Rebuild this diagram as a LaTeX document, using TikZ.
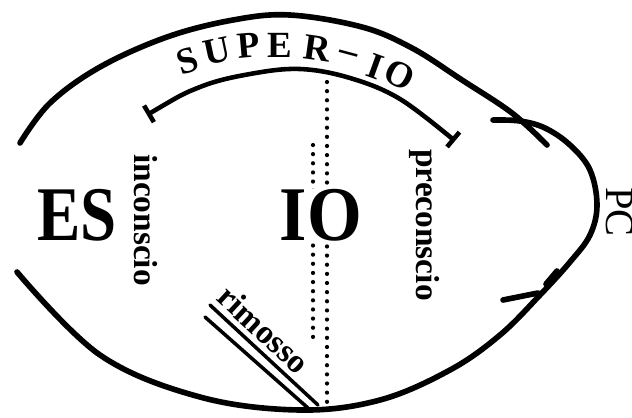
\documentclass[tikz,border=0pt]{standalone}
\usepackage{fontspec}
\setmainfont{Liberation Serif}
\usetikzlibrary{arrows.meta}

\begin{document}
\begin{tikzpicture}[
  x=0.02cm, y=-0.02cm,
  outline/.style={line width=3.2pt, line cap=round},
  superarc/.style={line width=2.6pt, {Bar[width=11pt]}-{Bar[width=11pt]}},
  rimline/.style={line width=2pt, line cap=round},
  dots/.style={line width=2.4pt, line cap=round, dash pattern=on 0pt off 5.2pt},
  big/.style={font=\bfseries\fontsize{44}{44}\selectfont, inner sep=0pt},
  side/.style={font=\bfseries\fontsize{19}{19}\selectfont, rotate=-90, inner sep=0pt},
  letter/.style={font=\bfseries\fontsize{21}{21}\selectfont, inner sep=0pt}
]
\useasboundingbox (0,0) rectangle (632,417);
% --- contorno esterno ---
\draw[outline] plot[smooth, tension=0.6] coordinates {(20,143) (50,103) (100,67) (167,37) (233,20) (290,15) (362,27) (412,48) (462,80) (512,113) (547,145)};
\draw[outline] plot[smooth, tension=0.6] coordinates {(493,120) (520,121) (545,128) (570,145) (590,170) (597,205) (590,235) (570,262) (540,295) (500,335) (450,370) (380,400) (300,410) (200,397) (100,355) (17,272)};
\draw[outline] (503,300) -- (538,293);
\draw[outline] (557,271) -- (546,284);
% --- super-io ---
\draw[superarc] plot[smooth, tension=0.6] coordinates {(147,115) (200,87) (250,74) (300,69) (350,78) (400,99) (455,141)};
\foreach \ch/\px/\py/\rot [count=\k] in {S/188/61/18, U/217/51/12, P/249/45/5, E/280/45/0, R/317/48/-8, --/348/57/-15, I/375/67/-20, O/400/75/-26}
  \node[letter, rotate=\rot] (super\k) at (\px,\py) {\ch};
% --- confini tratteggiati ---
\coordinate (ta) at (327,82);
\coordinate (tb) at (327,404);
\coordinate (ua) at (313,145);
\coordinate (ub) at (313,340);
\draw[dots] (ta) -- (tb);
\draw[dots] (ua) -- (ub);
% --- rimosso ---
\coordinate (ra) at (205,317);
\coordinate (rb) at (308,408);
\coordinate (rc) at (210,305);
\coordinate (rd) at (318,405);
\draw[rimline] (ra) -- (rb);
\draw[rimline] (rc) -- (rd)
  node[pos=0.38, sloped, above, inner sep=3pt, font=\bfseries\fontsize{19}{19}\selectfont] (rim) {rimosso};
% --- istanze ---
\node[big, xscale=0.84] (es) at (77,215) {ES};
\node[big, xscale=0.91, fill=white] (io) at (321,215) {IO};
\node[side] (inc) at (146,220) {inconscio};
\node[side] (pre) at (425,225) {preconscio};
\node[font=\fontsize{23}{23}\selectfont, rotate=-90, inner sep=0pt] (pc) at (620,212) {PC};
\end{tikzpicture}
\end{document}
